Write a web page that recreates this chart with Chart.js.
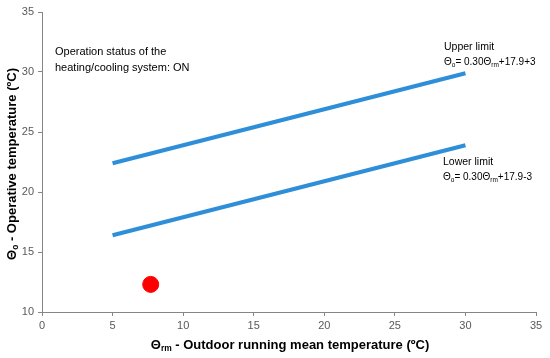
<!DOCTYPE html>
<html>
<head>
<meta charset="utf-8">
<script src="https://cdn.jsdelivr.net/npm/chart.js@4/dist/chart.umd.min.js"></script>
<style>
  html, body { margin: 0; padding: 0; background: #fff; }
  #wrap { width: 550px; height: 358px; }
</style>
</head>
<body>
<div id="wrap"><canvas id="myChart" width="550" height="358"></canvas></div>
<script>
// data
const limitX = [5, 30];
const upperY = [22.4, 29.9];
const lowerY = [16.4, 23.9];
const measuredX = [7.7];
const measuredY = [12.3];
const xTicks = [0, 5, 10, 15, 20, 25, 30, 35];
const yTicks = [10, 15, 20, 25, 30, 35];

const toPoints = (xs, ys) => xs.map((x, i) => ({ x: x, y: ys[i] }));

const FONT = '"Liberation Sans", Arial, sans-serif';

// draw text with subscript parts: parts = [[text, isSub], ...]
function richText(ctx, parts, x, y, size, bold, align) {
  const w = parts.reduce((s, p) => {
    ctx.font = (bold ? 'bold ' : '') + (p[1] ? size * 0.65 : size) + 'px ' + FONT;
    return s + ctx.measureText(p[0]).width;
  }, 0);
  let cx = align === 'center' ? x - w / 2 : x;
  parts.forEach(p => {
    ctx.font = (bold ? 'bold ' : '') + (p[1] ? size * 0.65 : size) + 'px ' + FONT;
    ctx.fillText(p[0], cx, p[1] ? y + size * 0.3 : y);
    cx += ctx.measureText(p[0]).width;
  });
}

const textPlugin = {
  id: 'texts',
  afterDraw(chart) {
    const ctx = chart.ctx;
    ctx.save();
    ctx.fillStyle = '#000';
    ctx.textBaseline = 'middle';
    ctx.textAlign = 'left';
    const s = 11;
    richText(ctx, [['Operation status of the', false]], 55, 52, s);
    richText(ctx, [['heating/cooling system: ON', false]], 55, 68, s);
    richText(ctx, [['Upper limit', false]], 444, 47, 10.5);
    richText(ctx, [['Θ', false], ['o', true], ['= 0.30Θ', false], ['rm', true], ['+17.9+3', false]], 444, 62, 10);
    richText(ctx, [['Lower limit', false]], 443, 162, 10.5);
    richText(ctx, [['Θ', false], ['o', true], ['= 0.30Θ', false], ['rm', true], ['+17.9-3', false]], 443, 177, 10);

    // axis titles
    ctx.fillStyle = '#000';
    richText(ctx, [['Θ', false], ['rm', true], [' - Outdoor running mean temperature (ºC)', false]], 290, 345, 13, true, 'center');
    ctx.translate(12, 164);
    ctx.rotate(-Math.PI / 2);
    richText(ctx, [['Θ', false], ['o', true], [' - Operative temperature (ºC)', false]], 0, 0, 13, true, 'center');
    ctx.restore();
  }
};

new Chart(document.getElementById('myChart'), {
  type: 'scatter',
  data: {
    datasets: [
      {
        label: 'Upper limit',
        data: toPoints(limitX, upperY),
        showLine: true,
        borderColor: '#2E8FD8',
        borderWidth: 4,
        pointRadius: 0
      },
      {
        label: 'Lower limit',
        data: toPoints(limitX, lowerY),
        showLine: true,
        borderColor: '#2E8FD8',
        borderWidth: 4,
        pointRadius: 0
      },
      {
        label: 'Measured',
        data: toPoints(measuredX, measuredY),
        backgroundColor: '#FF0000',
        borderColor: '#FF0000',
        pointRadius: 8
      }
    ]
  },
  options: {
    responsive: false,
    animation: false,
    layout: { padding: { top: 12, right: 14, left: 0, bottom: 0 } },
    plugins: {
      legend: { display: false },
      tooltip: { enabled: false }
    },
    scales: {
      x: {
        type: 'linear',
        min: 0,
        max: 35,
        afterBuildTicks: (scale) => { scale.ticks = xTicks.map(v => ({ value: v })); },
        afterFit: (scale) => { scale.height = 46; },
        grid: { display: true, drawOnChartArea: false, drawTicks: true, tickLength: 4, color: '#868686' },
        border: { color: '#868686' },
        ticks: { color: '#595959', font: { family: FONT, size: 11 }, padding: 3, maxRotation: 0 }
      },
      y: {
        type: 'linear',
        min: 10,
        max: 35,
        afterBuildTicks: (scale) => { scale.ticks = yTicks.map(v => ({ value: v })); },
        afterFit: (scale) => { scale.width = 42; },
        grid: { display: true, drawOnChartArea: false, drawTicks: true, tickLength: 4, color: '#868686' },
        border: { color: '#868686' },
        ticks: { color: '#595959', font: { family: FONT, size: 11 }, padding: 4 }
      }
    }
  },
  plugins: [textPlugin]
});
</script>
</body>
</html>
